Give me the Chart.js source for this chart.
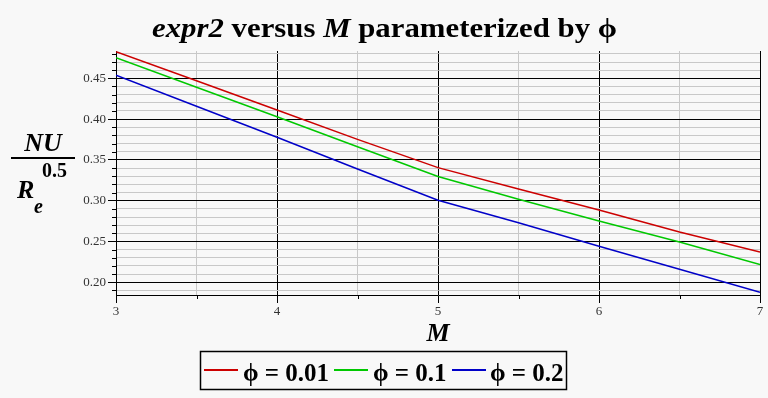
<!DOCTYPE html>
<html>
<head>
<meta charset="utf-8">
<script src="https://cdn.jsdelivr.net/npm/chart.js@4"></script>
<style>
  body { margin: 0; background: #f8f8f8; }
  canvas { display: block; }
</style>
</head>
<body>
<canvas id="grafico" width="768" height="398"></canvas>
<script>
// valores
const valoresM = [3, 3.5, 4, 4.5, 5, 5.5, 6, 6.5, 7];
const phi001 = [0.4826, 0.4470, 0.4112, 0.3752, 0.3405, 0.3143, 0.2886, 0.2616, 0.2371];
const phi01 = [0.4752, 0.4390, 0.4029, 0.3662, 0.3296, 0.3017, 0.2751, 0.2494, 0.2216];
const phi02 = [0.4537, 0.4157, 0.3777, 0.3389, 0.3005, 0.2730, 0.2441, 0.2159, 0.1877];
const etiquetasSerie = ["\u03D5 = 0.01", "\u03D5 = 0.1", "\u03D5 = 0.2"];
const coloresSerie = ["#cc0000", "#00c800", "#0000c8"];

const SERIF = "'Liberation Serif', 'Times New Roman', serif";

function puntos(valores) {
  return valoresM.map((m, i) => ({ x: m, y: valores[i] }));
}

function esMayorY(v) {
  return Math.round(v * 100) % 5 === 0;
}

// fondo, textos, leyenda y marcas cortas
const decoracion = {
  id: "decoracion",
  beforeDraw(chart) {
    const ctx = chart.ctx;
    ctx.save();
    ctx.fillStyle = "#f8f8f8";
    ctx.fillRect(0, 0, chart.width, chart.height);
    ctx.restore();
  },
  afterDraw(chart) {
    const ctx = chart.ctx;
    const area = chart.chartArea;
    ctx.save();
    ctx.fillStyle = "#000";
    ctx.textBaseline = "alphabetic";

    // marcas menores del eje y
    const ey = chart.scales.y;
    ctx.strokeStyle = "#000";
    ctx.lineWidth = 1;
    ey.ticks.forEach((t) => {
      if (esMayorY(t.value)) return;
      const py = Math.round(ey.getPixelForValue(t.value)) + 0.5;
      ctx.beginPath();
      ctx.moveTo(area.left - 4, py);
      ctx.lineTo(area.left, py);
      ctx.stroke();
    });
    // marcas menores del eje x
    const ex = chart.scales.x;
    ex.ticks.forEach((t) => {
      if (Number.isInteger(t.value)) return;
      const px = Math.round(ex.getPixelForValue(t.value)) + 0.5;
      ctx.beginPath();
      ctx.moveTo(px, area.bottom);
      ctx.lineTo(px, area.bottom + 4);
      ctx.stroke();
    });

    // título con partes en cursiva (algo más ancho, como el original)
    const partes = [
      ["expr2", "italic bold"],
      [" versus ", "bold"],
      ["M", "italic bold"],
      [" parameterized by \u03D5", "bold"],
    ];
    let ancho = 0;
    partes.forEach((p) => {
      ctx.font = p[1] + " 27px " + SERIF;
      ancho += ctx.measureText(p[0]).width;
    });
    const estirar = 465 / ancho;
    ctx.save();
    ctx.translate(152, 37);
    ctx.scale(estirar, 1);
    let x = 0;
    partes.forEach((p) => {
      ctx.font = p[1] + " 27px " + SERIF;
      ctx.fillText(p[0], x, 0);
      x += ctx.measureText(p[0]).width;
    });
    ctx.restore();

    // etiqueta del eje x
    ctx.textAlign = "center";
    ctx.font = "italic bold 26px " + SERIF;
    ctx.fillText("M", (area.left + area.right) / 2, 341);

    // etiqueta del eje y: NU / R_e^0.5
    ctx.fillText("NU", 43, 151);
    ctx.fillRect(11, 157, 64, 2);
    ctx.textAlign = "left";
    ctx.fillText("R", 17, 198);
    ctx.font = "bold 20px " + SERIF;
    ctx.fillText("0.5", 42, 177);
    ctx.font = "italic bold 20px " + SERIF;
    ctx.fillText("e", 34, 213);

    // leyenda con marco
    ctx.lineWidth = 1.5;
    ctx.strokeStyle = "#000";
    ctx.strokeRect(200.5, 351.5, 366, 38);
    const posLinea = [204, 334, 452];
    const posTexto = [243, 373, 490];
    ctx.font = "bold 25px " + SERIF;
    etiquetasSerie.forEach((txt, i) => {
      ctx.strokeStyle = coloresSerie[i];
      ctx.lineWidth = 2;
      ctx.beginPath();
      ctx.moveTo(posLinea[i], 370);
      ctx.lineTo(posLinea[i] + 34, 370);
      ctx.stroke();
      ctx.fillStyle = "#000";
      ctx.fillText(txt, posTexto[i], 381);
    });
    ctx.restore();
  },
};

const ctx = document.getElementById("grafico").getContext("2d");

new Chart(ctx, {
  type: "line",
  data: {
    datasets: [phi001, phi01, phi02].map((serie, i) => ({
      label: etiquetasSerie[i],
      data: puntos(serie),
      borderColor: coloresSerie[i],
      borderWidth: 1.5,
      pointRadius: 0,
      tension: 0,
      fill: false,
    })),
  },
  options: {
    responsive: false,
    animation: false,
    devicePixelRatio: 1,
    layout: { padding: { top: 51, right: 8, left: 0, bottom: 0 } },
    plugins: {
      legend: { display: false },
      title: { display: false },
      tooltip: { enabled: false },
    },
    scales: {
      x: {
        type: "linear",
        min: 3,
        max: 7,
        grid: {
          color: (c) => (Number.isInteger(c.tick.value) ? "#000" : "#c8c8c8"),
          tickColor: (c) => (Number.isInteger(c.tick.value) ? "#000" : "rgba(0,0,0,0)"),
          tickLength: 8,
          lineWidth: 1,
        },
        border: { color: "#000", width: 1 },
        ticks: {
          stepSize: 0.5,
          autoSkip: false,
          maxRotation: 0,
          padding: 1,
          color: "#333",
          font: { family: SERIF, size: 13 },
          callback: (v) => (Number.isInteger(v) ? String(v) : ""),
        },
        afterFit: (escala) => {
          escala.height = 103;
        },
      },
      y: {
        min: 0.1844,
        max: 0.4835,
        grid: {
          color: (c) => (esMayorY(c.tick.value) ? "#000" : "#c8c8c8"),
          tickColor: (c) => (esMayorY(c.tick.value) ? "#000" : "rgba(0,0,0,0)"),
          tickLength: 8,
          lineWidth: 1,
        },
        border: { color: "#000", width: 1 },
        ticks: {
          stepSize: 0.01,
          includeBounds: false,
          autoSkip: false,
          padding: 2,
          color: "#333",
          font: { family: SERIF, size: 13 },
          callback: (v) => (esMayorY(v) ? v.toFixed(2) : ""),
        },
        afterFit: (escala) => {
          escala.width = 116;
        },
      },
    },
  },
  plugins: [decoracion],
});
</script>
</body>
</html>
